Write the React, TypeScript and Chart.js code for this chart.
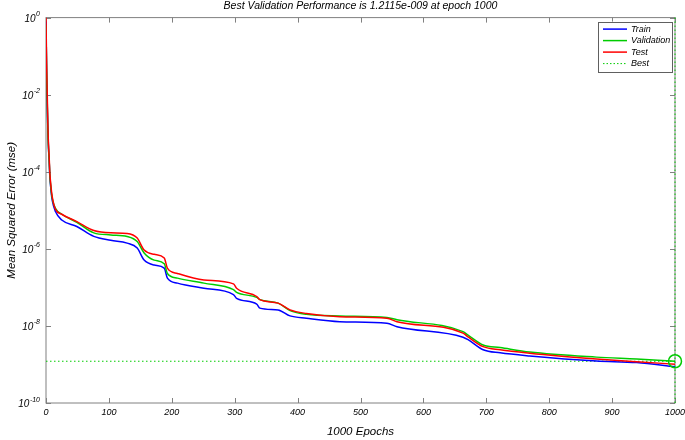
import React, { useEffect, useRef } from 'react';
import { Chart, registerables } from 'chart.js';

Chart.register(...registerables);

const epochs = [0, 1, 2, 3, 4, 5, 6, 8, 10, 15, 25, 49, 76, 103, 129, 145, 156, 172, 188, 193, 209, 251, 298, 303, 335, 340, 369, 388, 414, 467, 542, 558, 663, 671, 695, 722, 769, 875, 939, 1000];

const trainMse = [7.9e-1, 3.16e-2, 5.0e-3, 1.26e-3, 3.98e-4, 2.0e-4, 7.9e-5, 3.2e-5, 1.78e-5, 9.3e-6, 5.6e-6, 3.8e-6, 2.1e-6, 1.66e-6, 1.41e-6, 1.05e-6, 5.1e-7, 3.8e-7, 3.16e-7, 1.74e-7, 1.29e-7, 9.5e-8, 6.5e-8, 5.2e-8, 3.7e-8, 2.9e-8, 2.6e-8, 1.82e-8, 1.58e-8, 1.29e-8, 1.17e-8, 9.5e-9, 5.1e-9, 4.4e-9, 2.4e-9, 2.0e-9, 1.66e-9, 1.23e-9, 1.12e-9, 8.7e-10];

const validationMse = [6.3e-1, 4.0e-2, 6.3e-3, 1.0e-3, 4.0e-4, 2.0e-4, 8.9e-5, 3.5e-5, 2.0e-5, 1.12e-5, 7.9e-6, 4.9e-6, 2.6e-6, 2.3e-6, 2.1e-6, 1.55e-6, 7.8e-7, 5.1e-7, 4.1e-7, 2.3e-7, 1.74e-7, 1.29e-7, 8.7e-8, 7.4e-8, 5.5e-8, 4.8e-8, 3.9e-8, 2.5e-8, 2.0e-8, 1.82e-8, 1.66e-8, 1.45e-8, 7.1e-9, 5.8e-9, 3.2e-9, 2.75e-9, 2.1e-9, 1.55e-9, 1.38e-9, 1.2115e-9];

const testMse = [1.0, 6.3e-2, 1.0e-2, 1.58e-3, 5.0e-4, 2.5e-4, 1.0e-4, 4.0e-5, 2.2e-5, 1.07e-5, 7.9e-6, 5.1e-6, 3.0e-6, 2.6e-6, 2.5e-6, 1.9e-6, 9.3e-7, 7.2e-7, 5.8e-7, 3.16e-7, 2.3e-7, 1.55e-7, 1.23e-7, 9.5e-8, 5.8e-8, 4.8e-8, 3.9e-8, 2.6e-8, 2.1e-8, 1.74e-8, 1.58e-8, 1.29e-8, 6.5e-9, 5.2e-9, 2.9e-9, 2.4e-9, 1.95e-9, 1.38e-9, 1.17e-9, 1.02e-9];

const bestEpoch = 1000;
const bestValue = 1.2115e-9;
const xMin = 0;
const xMax = 1000;
const yMin = 1e-10;
const yMax = 1;
const xTicks = [0, 100, 200, 300, 400, 500, 600, 700, 800, 900, 1000];
const yTicks = [1e-10, 1e-8, 1e-6, 1e-4, 1e-2, 1];
const yTickBase = '10';
const yTickExponents = ['-10', '-8', '-6', '-4', '-2', '0'];
const seriesLabels = ['Train', 'Validation', 'Test', 'Best'];
const chartTitle = 'Best Validation Performance is 1.2115e-009 at epoch 1000';
const xTitle = '1000 Epochs';
const yTitle = 'Mean Squared Error (mse)';

const FONT = "'Liberation Sans', Arial, Helvetica, sans-serif";
const BLUE = '#0000ff';
const GREEN = '#00cc00';
const RED = '#ff0000';
const FRAME = '#808080';

const framePlugin = {
  id: 'matlabFrame',
  beforeDatasetsDraw(chart: any) {
    const { ctx, chartArea: ca, scales } = chart;
    ctx.save();
    ctx.strokeStyle = FRAME;
    ctx.lineWidth = 1;
    ctx.strokeRect(ca.left, ca.top, ca.right - ca.left, ca.bottom - ca.top);
    const tl = 5;
    ctx.beginPath();
    scales.x.ticks.forEach((t: any) => {
      const px = Math.round(scales.x.getPixelForValue(t.value)) + 0.5;
      ctx.moveTo(px, ca.bottom);
      ctx.lineTo(px, ca.bottom - tl);
      ctx.moveTo(px, ca.top);
      ctx.lineTo(px, ca.top + tl);
    });
    scales.y.ticks.forEach((t: any) => {
      const py = Math.round(scales.y.getPixelForValue(t.value)) + 0.5;
      ctx.moveTo(ca.left, py);
      ctx.lineTo(ca.left + tl, py);
      ctx.moveTo(ca.right, py);
      ctx.lineTo(ca.right - tl, py);
    });
    ctx.stroke();

    // y tick labels with real superscript exponents
    ctx.fillStyle = '#000';
    ctx.textBaseline = 'alphabetic';
    ctx.textAlign = 'left';
    yTicks.forEach((v, i) => {
      const py = scales.y.getPixelForValue(v);
      ctx.font = `italic 10px ${FONT}`;
      const bw = ctx.measureText(yTickBase).width;
      ctx.font = `italic 7px ${FONT}`;
      const ew = ctx.measureText(yTickExponents[i]).width;
      const xEnd = ca.left - 6;
      const x0 = xEnd - bw - ew - 0.5;
      ctx.font = `italic 10px ${FONT}`;
      ctx.fillText(yTickBase, x0, py + 4);
      ctx.font = `italic 7px ${FONT}`;
      ctx.fillText(yTickExponents[i], x0 + bw + 0.5, py - 1.5);
    });
    ctx.restore();
  },
  afterDraw(chart: any) {
    const { ctx, chartArea: ca } = chart;
    const w = 74;
    const h = 50;
    const right = ca.right - 3;
    const left = right - w;
    const top = ca.top + 4;
    ctx.save();
    ctx.fillStyle = '#ffffff';
    ctx.fillRect(left, top, w, h);
    ctx.strokeStyle = '#606060';
    ctx.lineWidth = 1;
    ctx.strokeRect(Math.round(left) + 0.5, Math.round(top) + 0.5, w, h);
    const items = [
      { color: BLUE, dash: [] as number[], label: seriesLabels[0] },
      { color: GREEN, dash: [] as number[], label: seriesLabels[1] },
      { color: RED, dash: [] as number[], label: seriesLabels[2] },
      { color: GREEN, dash: [1.5, 2] as number[], label: seriesLabels[3] },
    ];
    ctx.font = `italic 9px ${FONT}`;
    ctx.textBaseline = 'middle';
    ctx.textAlign = 'left';
    items.forEach((it, i) => {
      const y = top + 7.5 + i * 11.5;
      ctx.beginPath();
      ctx.strokeStyle = it.color;
      ctx.lineWidth = it.dash.length ? 1 : 1.5;
      ctx.setLineDash(it.dash);
      ctx.moveTo(left + 5, y);
      ctx.lineTo(left + 29, y);
      ctx.stroke();
      ctx.setLineDash([]);
      ctx.fillStyle = '#000';
      ctx.fillText(it.label, left + 33, y);
    });
    ctx.restore();
  },
};

function toPoints(xs: number[], ys: number[]) {
  return xs.map((x, i) => ({ x, y: ys[i] }));
}

export default function App() {
  const canvasRef = useRef<HTMLCanvasElement | null>(null);

  useEffect(() => {
    const canvas = canvasRef.current;
    if (!canvas) return;
    const lineStyle = {
      borderWidth: 1.5,
      pointRadius: 0,
      fill: false,
      cubicInterpolationMode: 'monotone',
    };
    const chart = new Chart(canvas, {
      type: 'line',
      data: {
        datasets: [
          { ...lineStyle, label: seriesLabels[2], data: toPoints(epochs, testMse), borderColor: RED, order: 0 },
          { ...lineStyle, label: seriesLabels[1], data: toPoints(epochs, validationMse), borderColor: GREEN, order: 1 },
          { ...lineStyle, label: seriesLabels[0], data: toPoints(epochs, trainMse), borderColor: BLUE, order: 2 },
          {
            label: seriesLabels[3],
            data: [
              { x: xMin, y: bestValue },
              { x: xMax, y: bestValue },
            ],
            borderColor: GREEN,
            borderWidth: 1,
            borderDash: [1.5, 2.5],
            pointRadius: 0,
            fill: false,
            order: 3,
            clip: false,
          },
          {
            label: 'bestVertical',
            data: [
              { x: bestEpoch, y: yMin },
              { x: bestEpoch, y: yMax },
            ],
            borderColor: GREEN,
            borderWidth: 1,
            borderDash: [1.5, 2.5],
            pointRadius: 0,
            fill: false,
            order: 3,
            clip: false,
          },
          {
            label: 'bestPoint',
            data: [{ x: bestEpoch, y: bestValue }],
            showLine: false,
            borderColor: GREEN,
            backgroundColor: 'rgba(0,0,0,0)',
            pointRadius: 6.5,
            pointBorderWidth: 1.5,
            pointStyle: 'circle',
            order: -1,
            clip: false,
          },
        ],
      },
      options: {
        animation: false,
        responsive: false,
        maintainAspectRatio: false,
        layout: { padding: { left: 0, right: 0, top: 0, bottom: 0 } },
        plugins: {
          legend: { display: false },
          tooltip: { enabled: false },
          title: {
            display: true,
            text: chartTitle,
            fullSize: false,
            color: '#000',
            font: { family: FONT, size: 10.5, style: 'italic', weight: 'normal' },
            padding: { top: 0, bottom: 5 },
          },
        },
        scales: {
          x: {
            type: 'linear',
            min: xMin,
            max: xMax,
            afterBuildTicks: (scale: any) => {
              scale.ticks = xTicks.map((v) => ({ value: v }));
            },
            afterFit: (scale: any) => {
              scale.height = 37;
              scale.paddingLeft = 0;
              scale.paddingRight = 10;
            },
            grid: { display: false, drawTicks: false },
            border: { display: false },
            ticks: {
              color: '#000',
              padding: 4,
              maxRotation: 0,
              autoSkip: false,
              font: { family: FONT, size: 9, style: 'italic' },
              callback: (v: any) => String(v),
            },
            title: {
              display: true,
              text: xTitle,
              color: '#000',
              font: { family: FONT, size: 11.5, style: 'italic' },
              padding: { top: 1, bottom: 1 },
            },
          },
          y: {
            type: 'logarithmic',
            min: yMin,
            max: yMax,
            afterBuildTicks: (scale: any) => {
              scale.ticks = yTicks.map((v) => ({ value: v }));
            },
            afterFit: (scale: any) => {
              scale.width = 46;
              scale.paddingTop = 0;
              scale.paddingBottom = 0;
            },
            grid: { display: false, drawTicks: false },
            border: { display: false },
            ticks: { display: false },
            title: {
              display: true,
              text: yTitle,
              color: '#000',
              font: { family: FONT, size: 11.5, style: 'italic' },
              padding: { top: 5, bottom: 0 },
            },
          },
        },
      },
      plugins: [framePlugin],
    } as any);
    return () => chart.destroy();
  }, []);

  return (
    <div style={{ position: 'absolute', left: 0, top: 0, width: 685, height: 440, background: '#fff' }}>
      <canvas ref={canvasRef} width={685} height={440} style={{ width: 685, height: 440, display: 'block' }} />
    </div>
  );
}
